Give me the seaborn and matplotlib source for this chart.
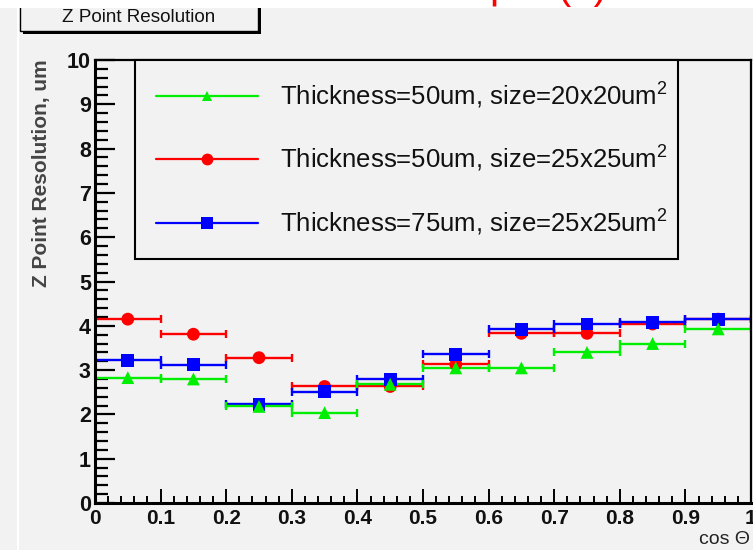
import matplotlib
matplotlib.use("Agg")
import matplotlib.pyplot as plt
import seaborn as sns
import pandas as pd
from matplotlib.patches import Rectangle
from matplotlib.lines import Line2D
from matplotlib.ticker import MultipleLocator

# ---------------- data ----------------
bin_centers = [0.05, 0.15, 0.25, 0.35, 0.45, 0.55, 0.65, 0.75, 0.85, 0.95]
bin_half_width = 0.05
green_vals = [2.83, 2.80, 2.18, 2.04, 2.68, 3.05, 3.05, 3.40, 3.60, 3.93]
red_vals = [4.15, 3.81, 3.28, 2.63, 2.63, 3.13, 3.83, 3.83, 4.04, 4.15]
blue_vals = [3.22, 3.12, 2.23, 2.51, 2.79, 3.36, 3.92, 4.04, 4.08, 4.15]
series_labels = [
    r"Thickness=50um, size=20x20um$^{2}$",
    r"Thickness=50um, size=25x25um$^{2}$",
    r"Thickness=75um, size=25x25um$^{2}$",
]
x_ticks = [0, 0.1, 0.2, 0.3, 0.4, 0.5, 0.6, 0.7, 0.8, 0.9, 1.0]
x_tick_labels = ["0", "0.1", "0.2", "0.3", "0.4", "0.5", "0.6", "0.7", "0.8", "0.9", "1"]
y_ticks = [0, 1, 2, 3, 4, 5, 6, 7, 8, 9, 10]
y_tick_labels = ["0", "1", "2", "3", "4", "5", "6", "7", "8", "9", "10"]
title_text = "Z Point Resolution"
y_label = "Z Point Resolution, um"
x_label = "cos \u0398"

# ---------------- style ----------------
sns.set_theme(style="ticks")
plt.rcParams["font.family"] = ["Liberation Sans", "DejaVu Sans"]
plt.rcParams["mathtext.fontset"] = "custom"
plt.rcParams["mathtext.rm"] = "Liberation Sans"
plt.rcParams["mathtext.it"] = "Liberation Sans:italic"
plt.rcParams["mathtext.bf"] = "Liberation Sans:bold"

BG = "#f2f2f2"
W, H = 753, 550
fig = plt.figure(figsize=(W / 100, H / 100), dpi=100, facecolor=BG)
ax = fig.add_axes([95 / W, 1 - 503 / H, 656 / W, 443 / H])
ax.set_facecolor(BG)

colors = {"g": "#00ee00", "r": "#ff0000", "b": "#0000ff"}
markers = {"g": "^", "r": "o", "b": "s"}
vals = {"g": green_vals, "r": red_vals, "b": blue_vals}
labels = {"g": series_labels[0], "r": series_labels[1], "b": series_labels[2]}

draw_order = ["r", "b", "g"]
for k in draw_order:
    ax.errorbar(bin_centers, vals[k], xerr=bin_half_width, fmt="none",
                ecolor=colors[k], elinewidth=1.7, capsize=3.2, capthick=1.7,
                zorder=2)

rows = []
for k in draw_order:
    for xc, v in zip(bin_centers, vals[k]):
        rows.append({"cos": xc, "res": v, "series": labels[k]})
df = pd.DataFrame(rows)
sns.scatterplot(data=df, x="cos", y="res", hue="series", style="series",
                hue_order=[labels[k] for k in draw_order],
                style_order=[labels[k] for k in draw_order],
                palette=[colors[k] for k in draw_order],
                markers=[markers[k] for k in draw_order],
                s=85, edgecolor="none", linewidth=0, legend=False, ax=ax,
                zorder=3)

ax.set_xlim(0, 1)
ax.set_ylim(0, 10)
ax.set_xticks(x_ticks, x_tick_labels)
ax.set_yticks(y_ticks, y_tick_labels)
ax.xaxis.set_minor_locator(MultipleLocator(0.02))
ax.yaxis.set_minor_locator(MultipleLocator(0.2))
ax.tick_params(axis="y", which="major", direction="in", length=14.5, width=1.6,
               labelsize=15.5, pad=3, color="black", labelcolor="#111111")
ax.tick_params(axis="y", which="minor", direction="in", length=9.5, width=1.6,
               color="black")
ax.tick_params(axis="x", which="major", direction="in", length=10, width=1.4,
               labelsize=15, pad=4, color="black", labelcolor="#111111")
ax.tick_params(axis="x", which="minor", direction="in", length=5, width=1.4,
               color="black")
for lab in ax.get_xticklabels() + ax.get_yticklabels():
    lab.set_fontweight("bold")
for s in ax.spines.values():
    s.set_visible(True)
    s.set_color("black")
    s.set_linewidth(1.6)
ax.spines["left"].set_linewidth(2.2)
ax.spines["bottom"].set_linewidth(2.2)
ax.grid(False)

ax.set_ylabel(y_label, fontsize=15, fontweight="bold", color="#444444",
              ha="center", va="center")
ax.yaxis.set_label_coords((42 - 95) / 656, (503 - 173) / 443)
ax.set_xlabel(x_label, fontsize=14, color="#222222", ha="right", va="center")
ax.xaxis.set_label_coords((750 - 95) / 656, (503 - 539) / 443)

# legend
handles = [Line2D([], [], color=colors[k], marker=markers[k], lw=1.6,
                  markersize=(7 if k == "g" else 8.5), markeredgewidth=0)
           for k in ["g", "r", "b"]]
leg = ax.legend(handles=handles, labels=[labels[k] for k in ["g", "r", "b"]],
                loc="upper left",
                bbox_to_anchor=(40 / 656, 0.0, 543 / 656, 1.0), mode="expand",
                borderaxespad=0, frameon=True, fancybox=False,
                edgecolor="black", facecolor=BG, framealpha=1,
                fontsize=18.5, handlelength=4.0, handletextpad=0.85,
                borderpad=0.8, labelspacing=1.3)
leg.get_frame().set_linewidth(1.5)
for t in leg.get_texts():
    t.set_color("#111111")

# ---------------- canvas decorations ----------------
def px(x0, y0, w, h):
    return (x0 / W, 1 - (y0 + h) / H), w / W, h / H

(xy, w, h) = px(23, -5, 238, 39)
fig.add_artist(Rectangle(xy, w, h, transform=fig.transFigure,
                         facecolor="black", edgecolor="none", zorder=1))
(xy, w, h) = px(20, -5, 238, 36)
fig.add_artist(Rectangle(xy, w, h, transform=fig.transFigure,
                         facecolor=BG, edgecolor="black", lw=1.0, zorder=2))
fig.text(139 / W, 1 - 18 / H, title_text, fontsize=13.6, color="#111111",
         ha="center", va="center", zorder=3)

(xy, w, h) = px(0, 0, W, 8)
fig.add_artist(Rectangle(xy, w, h, transform=fig.transFigure,
                         facecolor="white", edgecolor="none", zorder=5))
(xy, w, h) = px(17, 8, 2, H - 8)
fig.add_artist(Rectangle(xy, w, h, transform=fig.transFigure,
                         facecolor="white", edgecolor="none", zorder=5))
fig.text(490 / W, 1 + 1 / H, "\u03bcm (?)", fontsize=29, color="#ff0000",
         ha="left", va="baseline", zorder=6)

fig.savefig("out.png", dpi=100, facecolor=BG)
